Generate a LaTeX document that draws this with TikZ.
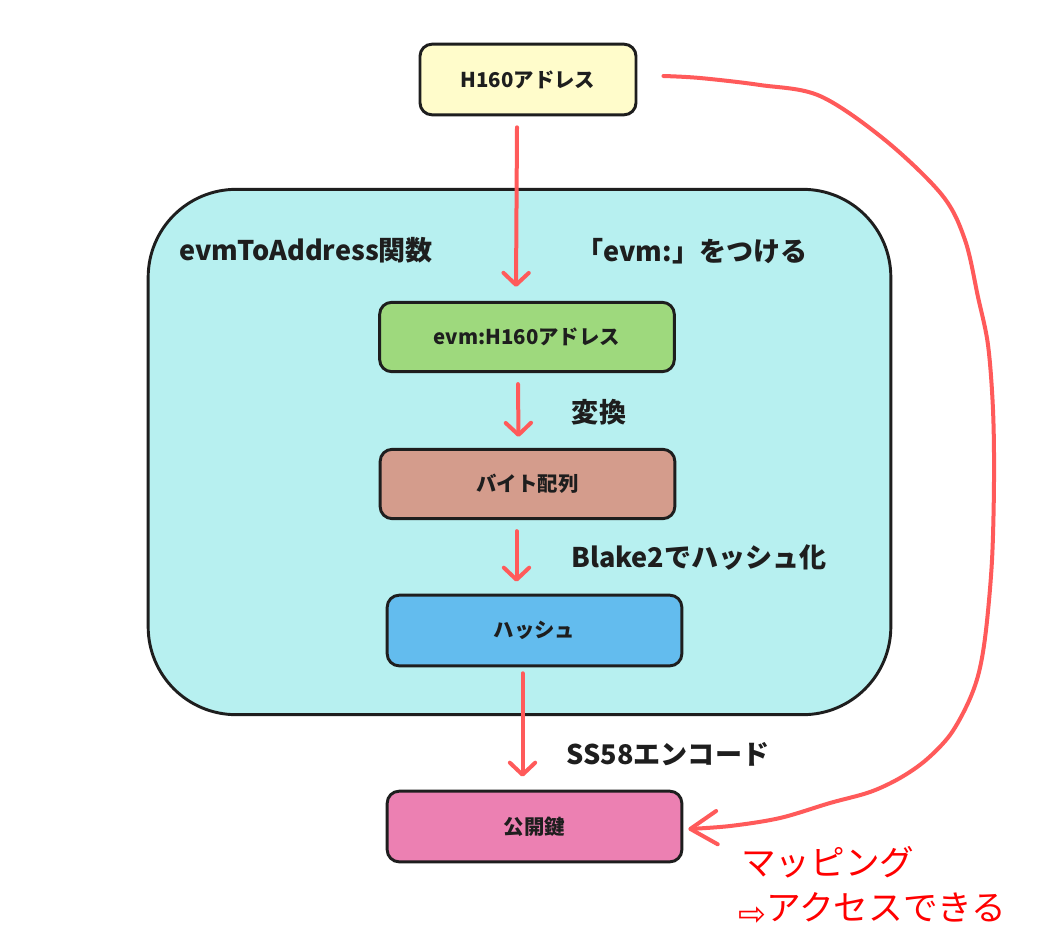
\documentclass[tikz,border=0pt]{standalone}
\usepackage{fontspec}
\setmainfont{Noto Sans CJK JP}
\newfontfamily\arrowfont{DejaVu Sans}
\usetikzlibrary{arrows.meta,calc}
\definecolor{inkc}{HTML}{1E1E1E}
\definecolor{redline}{HTML}{FF5A5A}
\definecolor{topc}{HTML}{FFFCCB}
\definecolor{contc}{HTML}{B7F0F0}
\definecolor{greenc}{HTML}{9ED97D}
\definecolor{brownc}{HTML}{D49C8C}
\definecolor{bluec}{HTML}{63BCEE}
\definecolor{pinkc}{HTML}{EC80B2}
\definecolor{notec}{HTML}{FF0000}
\tikzset{
  px/.style={x=0.75pt,y=-0.75pt},
  box/.style={draw=inkc,line width=2.2pt,rounded corners=9pt,font=\bfseries\fontsize{15.3}{17}\selectfont,text=inkc,inner sep=0pt},
  bigbox/.style={draw=inkc,line width=2.2pt,rounded corners=66pt,fill=contc,inner sep=0pt},
  lbl/.style={font=\bfseries\fontsize{20.3}{23}\selectfont,text=inkc,inner sep=0pt},
  note/.style={font=\fontsize{26}{29}\selectfont,text=notec,inner sep=0pt,anchor=west},
  flow/.style={draw=redline,line width=3pt,line cap=round,-{Straight Barb[length=9pt,width=19pt,round]}},
  mapline/.style={draw=redline,line width=3pt,line cap=round,line join=round,-{Straight Barb[length=20pt,width=25pt,round]}}
}
\begin{document}
\begin{tikzpicture}[px]
\useasboundingbox (0,0) rectangle (1038,936);
\fill[white] (0,0) rectangle (1038,936);
% container
\node[bigbox,minimum width=557pt,minimum height=394pt] (cont) at (519.5,452) {};
\node[lbl] (lfunc) at (306,250) {evmToAddress関数};
\node[lbl] (ladd) at (692,251) {「evm:」をつける};
\node[lbl] (lconv) at (599,412) {変換};
\node[lbl] (lhash) at (699,557) {Blake2でハッシュ化};
\node[lbl] (lss) at (668,754) {SS58エンコード};
% boxes
\node[box,fill=topc,minimum width=162pt,minimum height=53pt] (top) at (528,79.5) {H160アドレス};
\node[box,fill=greenc,minimum width=221pt,minimum height=52pt] (evm) at (527,337) {evm:H160アドレス};
\node[box,fill=brownc,minimum width=221pt,minimum height=52pt] (bytes) at (527.5,484) {バイト配列};
\node[box,fill=bluec,minimum width=221pt,minimum height=53pt] (hash) at (534.5,630.5) {ハッシュ};
\node[box,fill=pinkc,minimum width=221pt,minimum height=53pt] (key) at (534.5,826.5) {公開鍵};
% arrows
\draw[flow] ($(top.south)+(-11,11)$) -- ($(evm.north)+(-11,-14)$);
\draw[flow] ($(evm.south)+(-9,11)$) -- ($(bytes.north)+(-9,-11)$);
\draw[flow] ($(bytes.south)+(-11,11)$) -- ($(hash.north)+(-18,-12)$);
\draw[flow] ($(hash.south)+(-12,6)$) -- ($(key.north)+(-12,-13)$);
% mapping curve
\coordinate (cs) at ($(top.east)+(26,-3.5)$);
\coordinate (ce) at ($(key.east)+(5,2.5)$);
\draw[mapline] plot[smooth,tension=0.55] coordinates {(cs) (700,78) (760,85) (820,96) (885,140) (942,195) (965,240) (978,297) (988,345) (993,410) (994,480) (992,560) (986,630) (979,672) (968,703) (950,735) (926,760) (900,778) (870,792) (830,803) (780,818) (730,826) (ce)};
% notes
\node[note] (n1) at (741,862) {マッピング};
\node[note] (n2) at (738,909) {{\arrowfont\fontsize{25}{27}\selectfont\raisebox{-4pt}{⇨}}アクセスできる};
\end{tikzpicture}
\end{document}
